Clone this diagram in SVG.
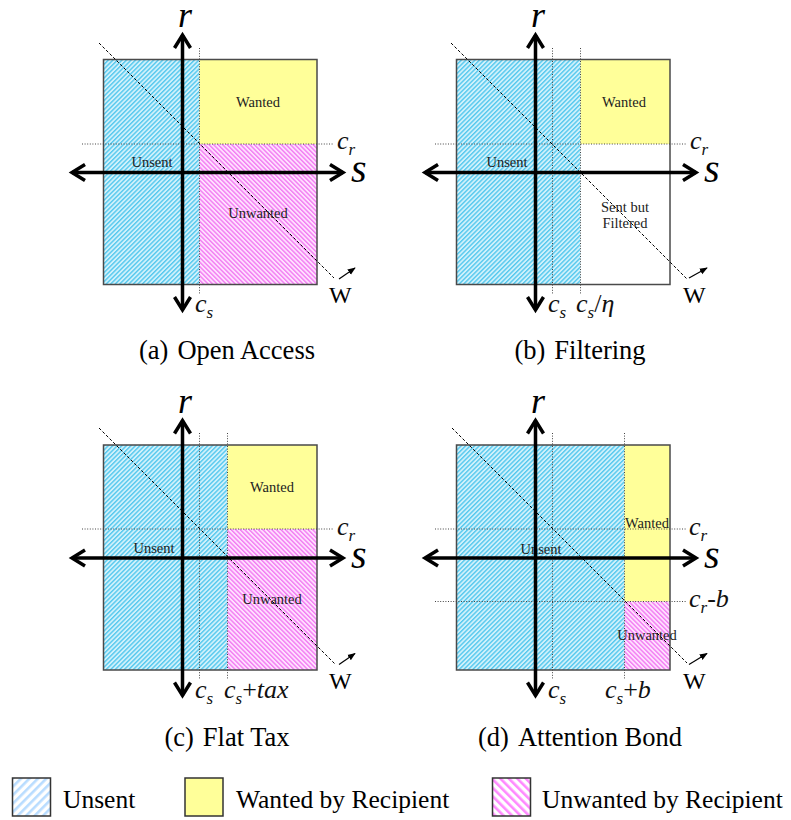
<svg xmlns="http://www.w3.org/2000/svg" width="791" height="820" viewBox="0 0 791 820">
<style>
.frame{fill:none;stroke:#4a4a4a;stroke-width:1.5}
.dot{stroke:#444;stroke-width:1;stroke-dasharray:1 1.6;fill:none}
.dash{stroke:#000;stroke-width:1;stroke-dasharray:3 2;fill:none}
.axis{stroke:#000;stroke-width:3.5;fill:none;marker-start:url(#chev);marker-end:url(#chev)}
.warr{stroke:#000;stroke-width:1.2;marker-end:url(#tri)}
.lbl{font-family:"Liberation Serif","Times New Roman",serif;font-size:14.5px;fill:#222;text-anchor:middle}
.ax{font-family:"Liberation Serif","Times New Roman",serif;font-style:italic;font-size:36px;fill:#000}
.axs{font-size:40px}
.cv{font-family:"Liberation Serif","Times New Roman",serif;font-style:italic;font-size:26px;fill:#111}
.up{font-style:normal}
.sub{font-size:17px}
.w{font-family:"Liberation Serif","Times New Roman",serif;font-size:24px;fill:#000}
.cap{font-family:"Liberation Serif","Times New Roman",serif;font-size:26.5px;fill:#000;text-anchor:middle}
.leg{font-family:"Liberation Serif","Times New Roman",serif;font-size:25.5px;fill:#000}
.legbox{stroke:#333;stroke-width:1.5}
</style>
<defs>
<pattern id="hBlue" patternUnits="userSpaceOnUse" width="3.2" height="3.2" patternTransform="rotate(45)">
<rect width="3.2" height="3.2" fill="#d0f1fb"/><rect width="1.4" height="3.2" fill="#55c8ee"/>
</pattern>
<pattern id="hPink" patternUnits="userSpaceOnUse" width="3.2" height="3.2" patternTransform="rotate(-45)">
<rect width="3.2" height="3.2" fill="#ffe0ff"/><rect width="1.4" height="3.2" fill="#f27cf2"/>
</pattern>
<pattern id="lBlue" patternUnits="userSpaceOnUse" width="6" height="6" patternTransform="rotate(45)">
<rect width="6" height="6" fill="#fff"/><rect width="2.6" height="6" fill="#b8dcff"/>
</pattern>
<pattern id="lPink" patternUnits="userSpaceOnUse" width="6" height="6" patternTransform="rotate(-45)">
<rect width="6" height="6" fill="#fff"/><rect width="2.6" height="6" fill="#ff88ff"/>
</pattern>
<marker id="chev" viewBox="-16 -10 20 20" refX="0" refY="0" markerWidth="20" markerHeight="20" markerUnits="userSpaceOnUse" orient="auto-start-reverse">
<path d="M-13,-8 L0,0 L-13,8" fill="none" stroke="#000" stroke-width="3.5"/>
</marker>
<marker id="tri" viewBox="0 0 10 10" refX="9" refY="5" markerWidth="8" markerHeight="8" markerUnits="userSpaceOnUse" orient="auto">
<path d="M0,1 L10,5 L0,9 z" fill="#000"/>
</marker>
</defs>
<rect width="791" height="820" fill="#fff"/>

<!-- Panel (a) -->
<g id="panel-a">
<rect x="103.5" y="59.5" width="96" height="225" fill="url(#hBlue)"/>
<rect x="199.5" y="59.5" width="117.5" height="84.5" fill="#ffff99"/>
<rect x="199.5" y="144" width="117.5" height="140.5" fill="url(#hPink)"/>
<rect class="frame" x="103.5" y="59.5" width="213.5" height="225"/>
<text class="lbl" x="258" y="107">Wanted</text>
<text class="lbl" x="152" y="167">Unsent</text>
<text class="lbl" x="258" y="218">Unwanted</text>
<g id="connectors-a">
<line class="dot" x1="199.5" y1="48" x2="199.5" y2="295"/>
<line class="dot" x1="82" y1="144" x2="333" y2="144"/>
<line class="dash" x1="99" y1="43" x2="334" y2="278"/>
<line class="axis" x1="182.5" y1="310" x2="182.5" y2="35"/>
<line class="axis" x1="72" y1="172.5" x2="343" y2="172.5"/>
<line class="warr" x1="339" y1="279" x2="355" y2="268"/>
</g>
<text class="ax" x="185" y="27" text-anchor="middle">r</text>
<text class="ax axs" x="351" y="182">s</text>
<text class="cv" x="337" y="149">c<tspan class="sub" dy="6">r</tspan></text>
<text class="cv" x="195" y="312">c<tspan class="sub" dy="6">s</tspan></text>
<text class="w" x="329" y="303">W</text>
<text class="cap" x="227" y="359">(a)<tspan dx="9">Open Access</tspan></text>
</g>

<!-- Panel (b) -->
<g id="panel-b" transform="translate(353,0)">
<rect x="103.5" y="59.5" width="124" height="225" fill="url(#hBlue)"/>
<rect x="227.5" y="59.5" width="89.5" height="84.5" fill="#ffff99"/>
<rect x="227.5" y="144" width="89.5" height="140.5" fill="#fff"/>
<rect class="frame" x="103.5" y="59.5" width="213.5" height="225"/>
<text class="lbl" x="271" y="107">Wanted</text>
<text class="lbl" x="154" y="167">Unsent</text>
<text class="lbl" x="272" y="212">Sent but</text>
<text class="lbl" x="272" y="228">Filtered</text>
<g id="connectors-b">
<line class="dot" x1="199.5" y1="48" x2="199.5" y2="295"/>
<line class="dot" x1="227.5" y1="48" x2="227.5" y2="295"/>
<line class="dot" x1="82" y1="144" x2="334" y2="144"/>
<line class="dash" x1="98" y1="43" x2="334" y2="279"/>
<line class="axis" x1="182.5" y1="310" x2="182.5" y2="35"/>
<line class="axis" x1="72" y1="172.5" x2="343" y2="172.5"/>
<line class="warr" x1="336" y1="278" x2="354" y2="268"/>
</g>
<text class="ax" x="185" y="27" text-anchor="middle">r</text>
<text class="ax axs" x="351" y="182">s</text>
<text class="cv" x="337" y="149">c<tspan class="sub" dy="6">r</tspan></text>
<text class="cv" x="195" y="312">c<tspan class="sub" dy="6">s</tspan></text>
<text class="cv" x="223" y="312">c<tspan class="sub" dy="6">s</tspan><tspan class="up" dy="-6">/</tspan>η</text>
<text class="w" x="330" y="303">W</text>
<text class="cap" x="227" y="359">(b)<tspan dx="9">Filtering</tspan></text>
</g>

<!-- Panel (c) -->
<g id="panel-c" transform="translate(0,385.5)">
<rect x="103.5" y="59.5" width="124" height="225" fill="url(#hBlue)"/>
<rect x="227.5" y="59.5" width="89.5" height="84" fill="#ffff99"/>
<rect x="227.5" y="143.5" width="89.5" height="141" fill="url(#hPink)"/>
<rect class="frame" x="103.5" y="59.5" width="213.5" height="225"/>
<text class="lbl" x="272" y="106.5">Wanted</text>
<text class="lbl" x="154" y="167.5">Unsent</text>
<text class="lbl" x="272" y="218.5">Unwanted</text>
<g id="connectors-c">
<line class="dot" x1="199.5" y1="47.5" x2="199.5" y2="294.5"/>
<line class="dot" x1="227.5" y1="47.5" x2="227.5" y2="294.5"/>
<line class="dot" x1="82" y1="143.5" x2="333" y2="143.5"/>
<line class="dash" x1="99" y1="42.5" x2="335" y2="278.5"/>
<line class="axis" x1="182.5" y1="310" x2="182.5" y2="35"/>
<line class="axis" x1="72" y1="172.5" x2="343" y2="172.5"/>
<line class="warr" x1="339" y1="279" x2="355" y2="268"/>
</g>
<text class="ax" x="185" y="27" text-anchor="middle">r</text>
<text class="ax axs" x="351" y="182">s</text>
<text class="cv" x="337" y="149">c<tspan class="sub" dy="6">r</tspan></text>
<text class="cv" x="195" y="312">c<tspan class="sub" dy="6">s</tspan></text>
<text class="cv" x="224" y="312">c<tspan class="sub" dy="6">s</tspan><tspan class="up" dy="-6">+</tspan>tax</text>
<text class="w" x="329" y="303">W</text>
<text class="cap" x="227" y="360.5">(c)<tspan dx="9">Flat Tax</tspan></text>
</g>

<!-- Panel (d) -->
<g id="panel-d" transform="translate(353,385.5)">
<rect x="103.5" y="59.5" width="168" height="225" fill="url(#hBlue)"/>
<rect x="271.5" y="59.5" width="45.5" height="156.5" fill="#ffff99"/>
<rect x="271.5" y="216" width="45.5" height="68.5" fill="url(#hPink)"/>
<rect class="frame" x="103.5" y="59.5" width="213.5" height="225"/>
<text class="lbl" x="294" y="142.5">Wanted</text>
<text class="lbl" x="188" y="168.5">Unsent</text>
<text class="lbl" x="294" y="254.5">Unwanted</text>
<g id="connectors-d">
<line class="dot" x1="199.5" y1="47.5" x2="199.5" y2="294.5"/>
<line class="dot" x1="271.5" y1="47.5" x2="271.5" y2="294.5"/>
<line class="dot" x1="82" y1="143.5" x2="334" y2="143.5"/>
<line class="dot" x1="82" y1="216" x2="334" y2="216"/>
<line class="dash" x1="99" y1="42.5" x2="334" y2="277.5"/>
<line class="axis" x1="182.5" y1="310" x2="182.5" y2="35"/>
<line class="axis" x1="72" y1="172.5" x2="343" y2="172.5"/>
<line class="warr" x1="336" y1="279" x2="354" y2="268"/>
</g>
<text class="ax" x="185" y="27" text-anchor="middle">r</text>
<text class="ax axs" x="351" y="182">s</text>
<text class="cv" x="336" y="149">c<tspan class="sub" dy="6">r</tspan></text>
<text class="cv" x="336" y="221.5">c<tspan class="sub" dy="6">r</tspan><tspan class="up" dy="-6">-</tspan>b</text>
<text class="cv" x="195" y="312">c<tspan class="sub" dy="6">s</tspan></text>
<text class="cv" x="252" y="312">c<tspan class="sub" dy="6">s</tspan><tspan class="up" dy="-6">+</tspan>b</text>
<text class="w" x="330" y="303">W</text>
<text class="cap" x="227" y="360.5">(d)<tspan dx="9">Attention Bond</tspan></text>
</g>

<!-- Legend -->
<g id="legend">
<g id="legend-unsent">
<rect class="legbox" x="12.5" y="778" width="38" height="38" fill="url(#lBlue)"/>
<text class="leg" x="63" y="808">Unsent</text>
</g>
<g id="legend-wanted">
<rect class="legbox" x="185" y="778" width="38" height="38" fill="#ffff99"/>
<text class="leg" x="236" y="808">Wanted by Recipient</text>
</g>
<g id="legend-unwanted">
<rect class="legbox" x="492.5" y="778" width="38" height="38" fill="url(#lPink)"/>
<text class="leg" x="542" y="808">Unwanted by Recipient</text>
</g>
</g>
</svg>
